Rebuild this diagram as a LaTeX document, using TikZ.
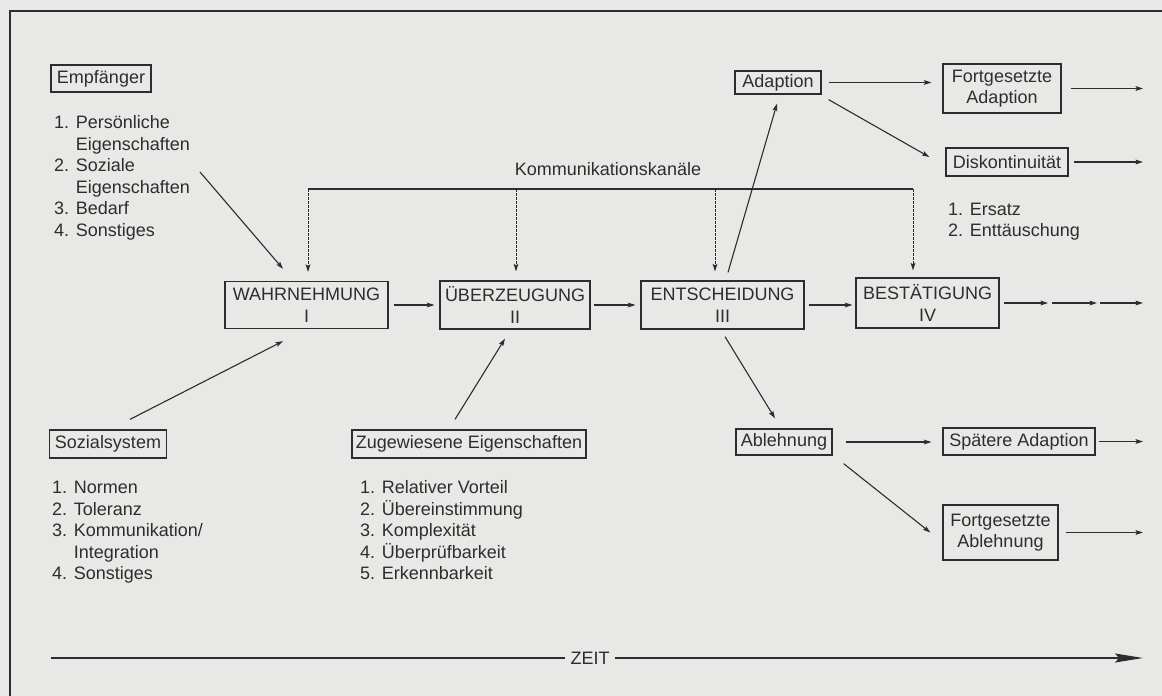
\documentclass[tikz,border=0pt]{standalone}
\usepackage{fontspec}
\setmainfont{Liberation Sans}
\usetikzlibrary{arrows.meta,calc}
\definecolor{bg}{RGB}{232,232,230}
\definecolor{ink}{RGB}{45,45,45}
\begin{document}
\begin{tikzpicture}[x=1pt,y=-1pt,
  every node/.style={font=\fontsize{18}{21.6}\selectfont, text=ink, inner sep=0pt},
  box/.style={draw=ink, line width=1.3pt, align=center},
  conn/.style={draw=ink, line width=1.1pt},
  arr/.style={conn, -{Stealth[length=7.5pt,width=4.8pt,inset=1.5pt]}},
  dasharr/.style={arr, line width=1pt, dash pattern=on 2.6pt off 1.4pt},
  bigarr/.style={conn, -{Stealth[length=28pt,width=9pt,inset=4pt]}},
  lst/.style={anchor=base west}
]
\fill[bg] (0,0) rectangle (1162,696);
\useasboundingbox (0,0) rectangle (1162,696);
% frame
\draw[ink, line width=1.3pt] (10,696) -- (10,11) -- (1162,11);

% boxes
\node[box, minimum width=100pt, minimum height=27pt] (emp) at (101,78.5) {Empfänger};
\node[box, minimum width=163pt, minimum height=47pt] (w) at (306.5,305) {WAHRNEHMUNG\\I};
\node[box, minimum width=150pt, minimum height=48pt] (u) at (515,305) {ÜBERZEUGUNG\\II};
\node[box, minimum width=163pt, minimum height=48pt] (e) at (722.5,305) {ENTSCHEIDUNG\\III};
\node[box, minimum width=143pt, minimum height=50pt] (b) at (927.5,303) {BESTÄTIGUNG\\IV};
\node[box, minimum width=86pt, minimum height=23pt] (ad) at (778,82.5) {Adaption};
\node[box, minimum width=118pt, minimum height=49pt] (fad) at (1002,88.5) {Fortgesetzte\\Adaption};
\node[box, minimum width=122pt, minimum height=28pt] (dis) at (1007,162) {Diskontinuität};
\node[box, minimum width=96pt, minimum height=26pt] (abl) at (784,442) {Ablehnung};
\node[box, minimum width=152pt, minimum height=27pt] (spa) at (1019,441.5) {Spätere Adaption};
\node[box, minimum width=115pt, minimum height=55pt] (fabl) at (1000.5,532.5) {Fortgesetzte\\Ablehnung};
\node[box, minimum width=117pt, minimum height=28pt] (soz) at (108,444) {Sozialsystem};
\node[box, minimum width=234pt, minimum height=28pt] (zug) at (469,444) {Zugewiesene Eigenschaften};

% lists
\node[lst] (emplist) at (54,128.5) {\begin{tabular}[t]{@{}l@{}}1. Persönliche\\\hphantom{1. }Eigenschaften\\2. Soziale\\\hphantom{2. }Eigenschaften\\3. Bedarf\\4. Sonstiges\end{tabular}};
\node[lst] (sozlist) at (52,493.5) {\begin{tabular}[t]{@{}l@{}}1. Normen\\2. Toleranz\\3. Kommunikation/\\\hphantom{3. }Integration\\4. Sonstiges\end{tabular}};
\node[lst] (zuglist) at (360,493.5) {\begin{tabular}[t]{@{}l@{}}1. Relativer Vorteil\\2. Übereinstimmung\\3. Komplexität\\4. Überprüfbarkeit\\5. Erkennbarkeit\end{tabular}};
\node[lst] (dislist) at (948,215) {\begin{tabular}[t]{@{}l@{}}1. Ersatz\\2. Enttäuschung\end{tabular}};

% Kommunikationskanaele
\node[anchor=base] (kk) at (608,175.5) {Kommunikationskanäle};
\coordinate (k1) at (308,189);
\coordinate (k2) at (516,189);
\coordinate (k3) at (715,189);
\coordinate (k4) at (913,189);
\draw[conn] (k1) -- (k4);
\draw[dasharr, shorten >=9pt] (k1) -- (k1 |- w.north);
\draw[dasharr, shorten >=9pt] (k2) -- (k2 |- u.north);
\draw[dasharr, shorten >=9pt] (k3) -- (k3 |- e.north);
\draw[dasharr, shorten >=7pt] (k4) -- (k4 |- b.north);

% inputs
\coordinate (e1) at (200,172);
\draw[arr] (e1) -- ([xshift=-23.5pt,yshift=12pt]w.north);
\draw[arr] ([xshift=22pt,yshift=10pt]soz.north) -- ([xshift=-23.5pt,yshift=-12pt]w.south);
\draw[arr] ([xshift=-14pt,yshift=10pt]zug.north) -- ([xshift=-10pt,yshift=-9pt]u.south);

% main row
\draw[arr, shorten <=5pt, shorten >=5pt] (w.east) -- (u.west);
\draw[arr, shorten <=3pt, shorten >=5pt] (u.east) -- (e.west);
\draw[arr, shorten <=4pt, shorten >=3pt] (e.east) -- (e.east -| b.west);
\coordinate (t1) at (1048,303);
\coordinate (t2) at (1097,303);
\coordinate (t3) at (1143,303);
\draw[arr, shorten <=4pt] (b.east) -- (t1);
\draw[arr, shorten <=4pt] (t1) -- (t2);
\draw[arr, shorten <=3pt] (t2) -- (t3);

% adaption branch
\draw[arr] ([xshift=5.5pt,yshift=8pt]e.north) -- ([xshift=-1pt,yshift=-9pt]ad.south);
\draw[arr, shorten <=7pt, shorten >=11pt] (ad.east) -- (ad.east -| fad.west);
\coordinate (o1) at (1143,88.5);
\draw[arr, shorten <=9pt] (fad.east) -- (o1);
\draw[arr] ([xshift=7pt,yshift=-5pt]ad.south east) -- ([xshift=-16pt,yshift=5pt]dis.west);
\coordinate (o2) at (1143,162);
\draw[arr, shorten <=5pt] (dis.east) -- (o2);

% ablehnung branch
\draw[arr] ([xshift=2.5pt,yshift=-7pt]e.south) -- ([xshift=-9pt,yshift=10pt]abl.north);
\draw[arr, shorten <=13pt, shorten >=11pt] (abl.east) -- (abl.east -| spa.west);
\coordinate (o3) at (1143,441.5);
\draw[arr, shorten <=3pt] (spa.east) -- (o3);
\draw[arr] ([xshift=11pt,yshift=-8pt]abl.south east) -- ([xshift=-12pt]fabl.west);
\coordinate (o4) at (1143,532.5);
\draw[arr, shorten <=7pt] (fabl.east) -- (o4);

% time axis
\node[anchor=base, inner xsep=5pt] (zeit) at (590,664.5) {ZEIT};
\coordinate (z0) at (51,658);
\coordinate (z1) at (1143,658);
\draw[conn] (z0) -- (z0 -| zeit.west);
\draw[bigarr] (z1 -| zeit.east) -- (z1);
\end{tikzpicture}
\end{document}
